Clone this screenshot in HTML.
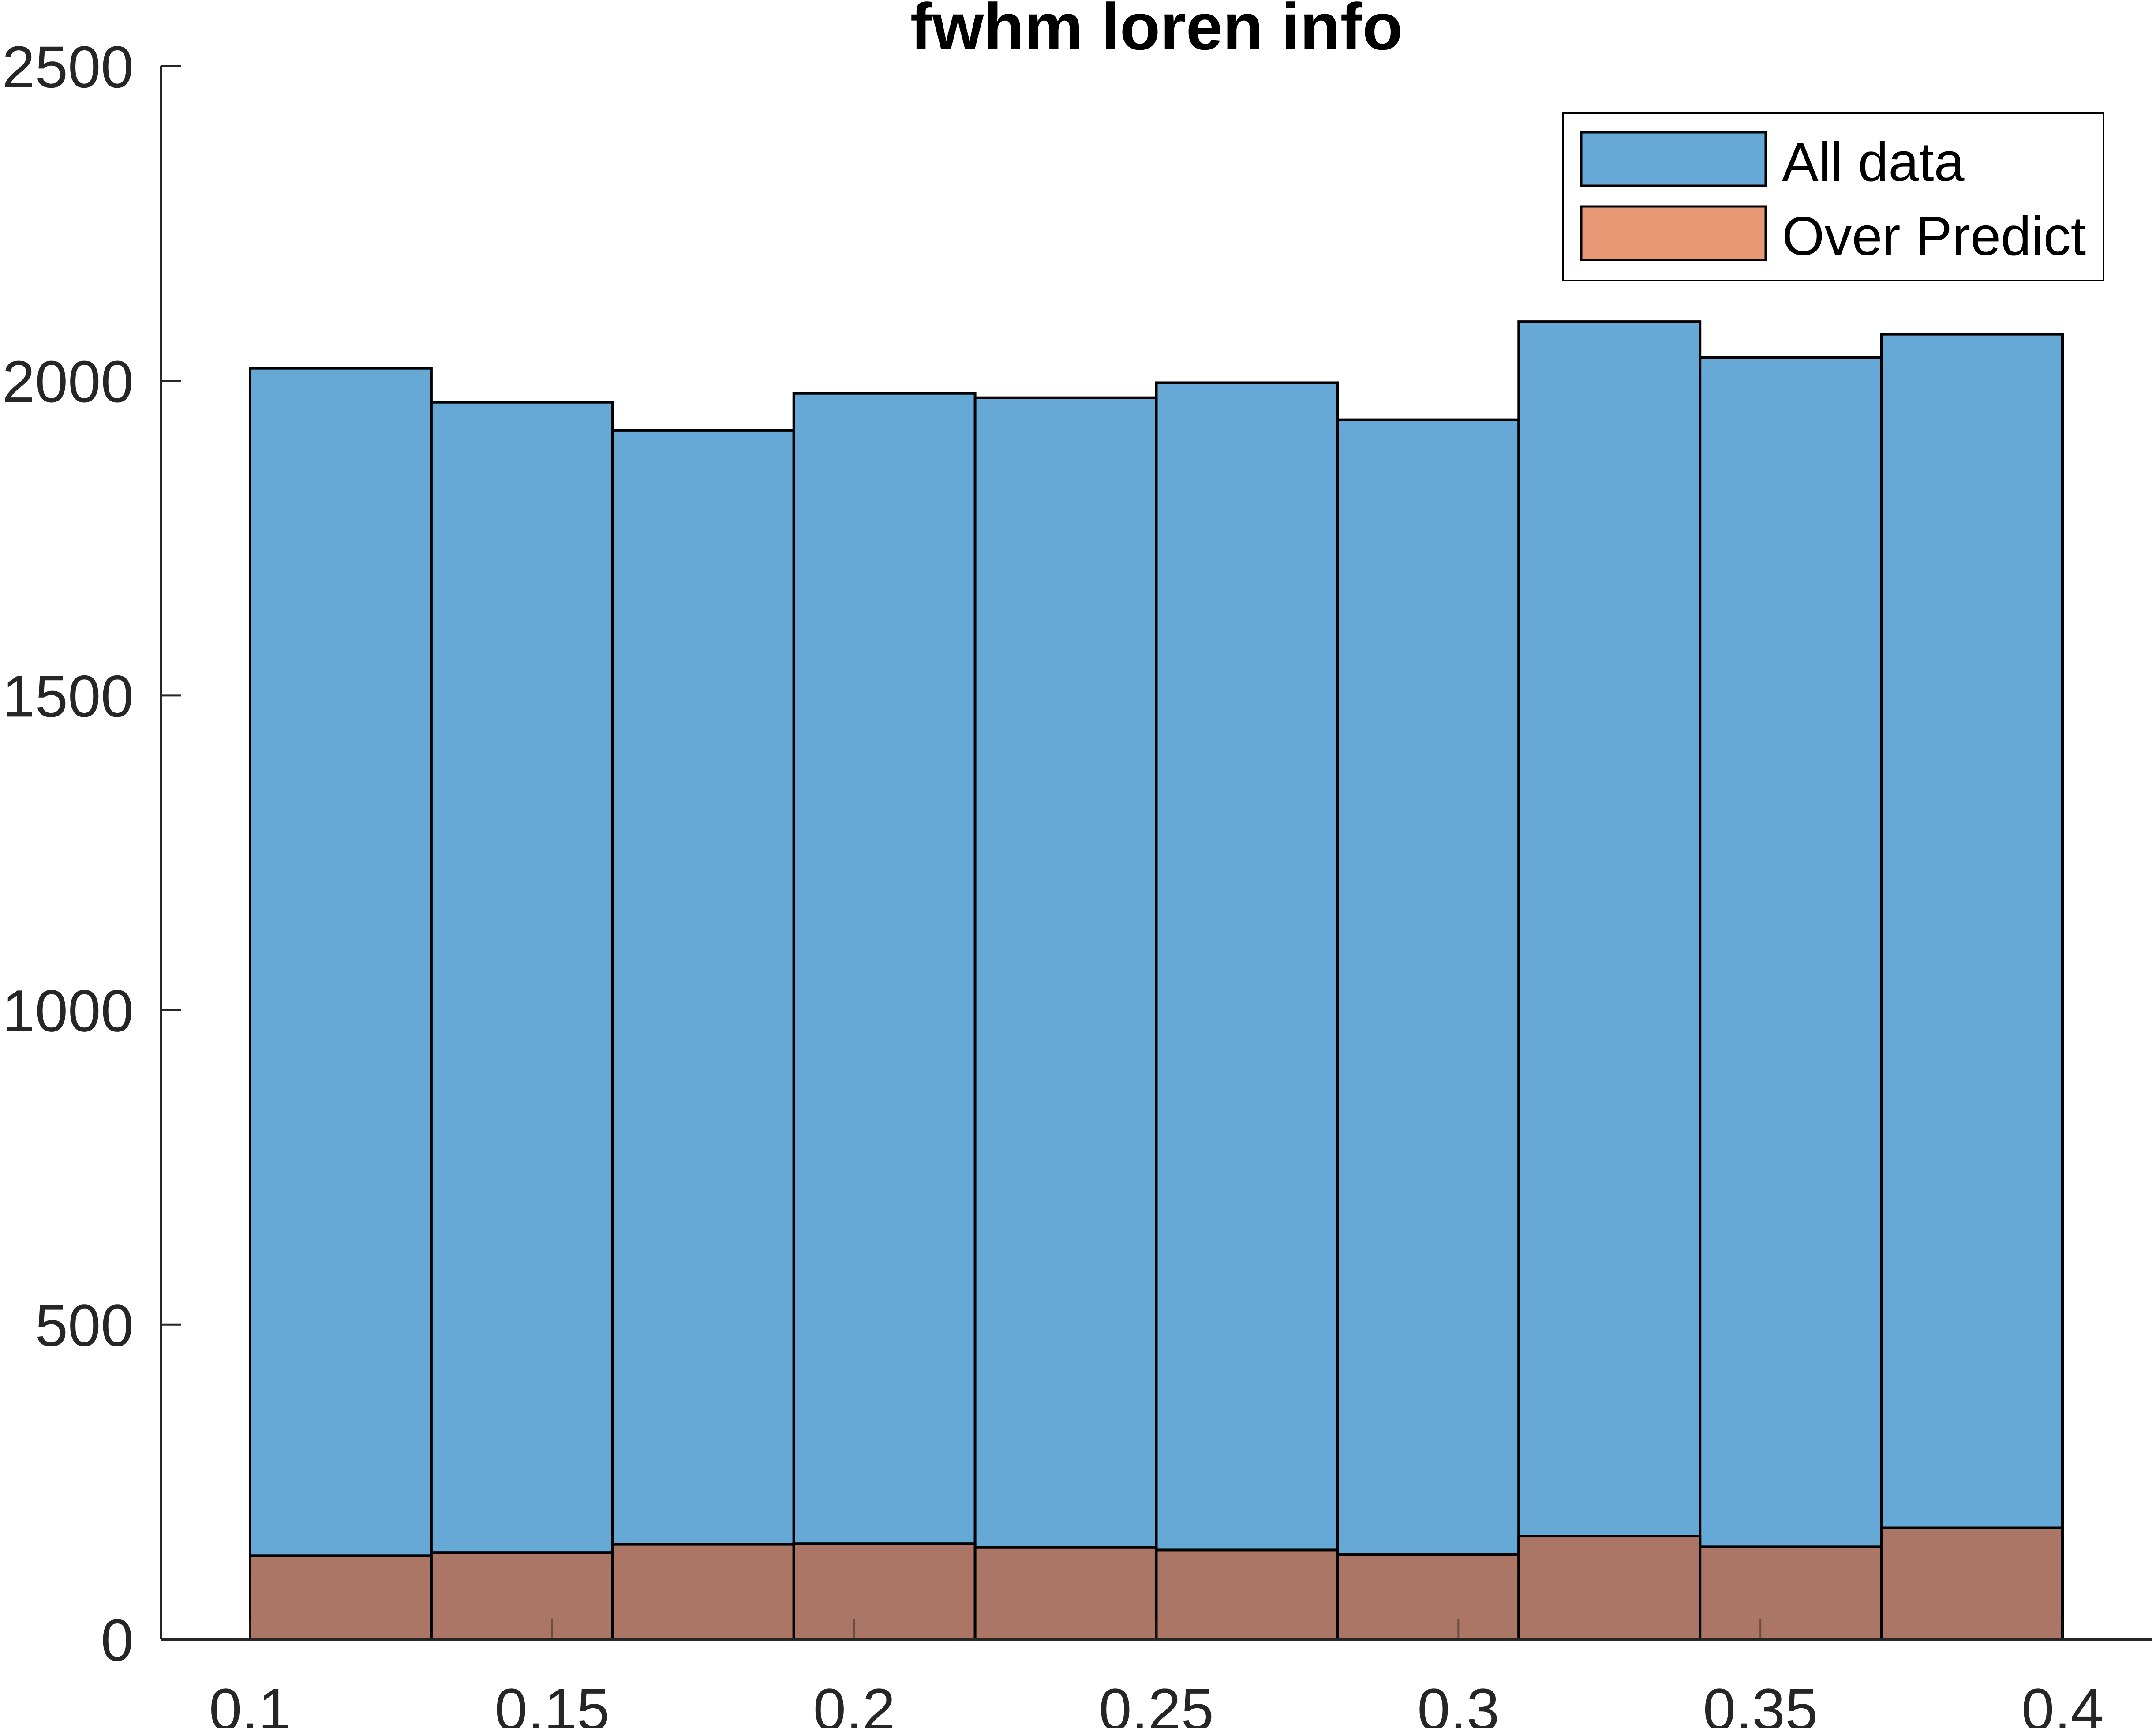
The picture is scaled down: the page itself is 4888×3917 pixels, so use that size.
<!DOCTYPE html>
<html><head><meta charset="utf-8"><style>
html,body{margin:0;padding:0;background:#fff;}
svg{display:block;font-family:"Liberation Sans",Arial,sans-serif;}
</style></head><body>
<svg id="chart" width="4888" height="3917" viewBox="0 0 4888 3917" xmlns="http://www.w3.org/2000/svg">
<rect width="4888" height="3917" fill="#fff"/>
<text x="2622" y="112" font-size="150" font-weight="bold" text-anchor="middle" fill="#000">fwhm loren info</text>
<g id="bars"></g>
<g id="axes"></g>
<g>
<rect x="3544" y="256" width="1225" height="380" fill="#fff" stroke="#000" stroke-width="4"/>
<rect x="3585" y="300" width="418" height="121" fill="#66a9d6" stroke="#000" stroke-width="5"/>
<text x="4040" y="410" font-size="124" fill="#000">All data</text>
<rect x="3585" y="468" width="418" height="121" fill="#e89875" stroke="#000" stroke-width="5"/>
<text x="4040" y="578" font-size="124" fill="#000">Over Predict</text>
</g>
</svg>
<script>
const binEdges=[0.1,0.13,0.16,0.19,0.22,0.25,0.28,0.31,0.34,0.37,0.4];
const allData=[2020,1966,1921,1980,1973,1997,1938,2094,2037,2074];
const overPredict=[133,138,151,152,146,142,135,164,147,177];
const xTicks=[0.1,0.15,0.2,0.25,0.3,0.35,0.4];
const xTickLabels=["0.1","0.15","0.2","0.25","0.3","0.35","0.4"];
const yTicks=[0,500,1000,1500,2000,2500];
const yTickLabels=["0","500","1000","1500","2000","2500"];

const NS="http://www.w3.org/2000/svg";
const X0=365,X1=4878,Y0=3716,Y1=150;
const xs=v=>567+(v-0.1)/0.3*(4676-567);
const ys=v=>Y0-(v/2500)*(Y0-Y1);
function mk(tag,attrs,parent){const e=document.createElementNS(NS,tag);for(const k in attrs)e.setAttribute(k,attrs[k]);parent.appendChild(e);return e;}
const bars=document.getElementById('bars'),axes=document.getElementById('axes');
for(let i=0;i<allData.length;i++){
  const a=xs(binEdges[i]),b=xs(binEdges[i+1]);
  const r=mk('rect',{x:a,y:ys(allData[i]),width:b-a,height:Y0-ys(allData[i]),fill:'#66a9d6',stroke:'#000','stroke-width':6},bars);
  
  
}
for(let i=0;i<overPredict.length;i++){
  const a=xs(binEdges[i]),b=xs(binEdges[i+1]);
  const r=mk('rect',{x:a,y:ys(overPredict[i]),width:b-a,height:Y0-ys(overPredict[i]),fill:'#ab7665',stroke:'#000','stroke-width':6},bars);
  
  
}
const yl=mk('line',{x1:X0,y1:Y0,x2:X0,y2:Y1,stroke:'#262626','stroke-width':6},axes);


const xl=mk('line',{x1:X0,y1:Y0,x2:X1,y2:Y0,stroke:'#262626','stroke-width':6},axes);


xTicks.forEach((v,i)=>{
  mk('line',{x1:xs(v),y1:Y0,x2:xs(v),y2:Y0-46,stroke:'#262626','stroke-width':4,'stroke-opacity':0.5},axes);
  const t=mk('text',{x:xs(v),y:Y0+205,'font-size':134,'text-anchor':'middle',fill:'#262626'},axes);
  t.textContent=xTickLabels[i];
  
  
});
yTicks.forEach((v,i)=>{
  mk('line',{x1:X0,y1:ys(v),x2:X0+46,y2:ys(v),stroke:'#262626','stroke-width':4},axes);
  const t=mk('text',{x:X0-62,y:ys(v)+48,'font-size':134,'text-anchor':'end',fill:'#262626'},axes);
  t.textContent=yTickLabels[i];
  
  
});
</script>
</body></html>
